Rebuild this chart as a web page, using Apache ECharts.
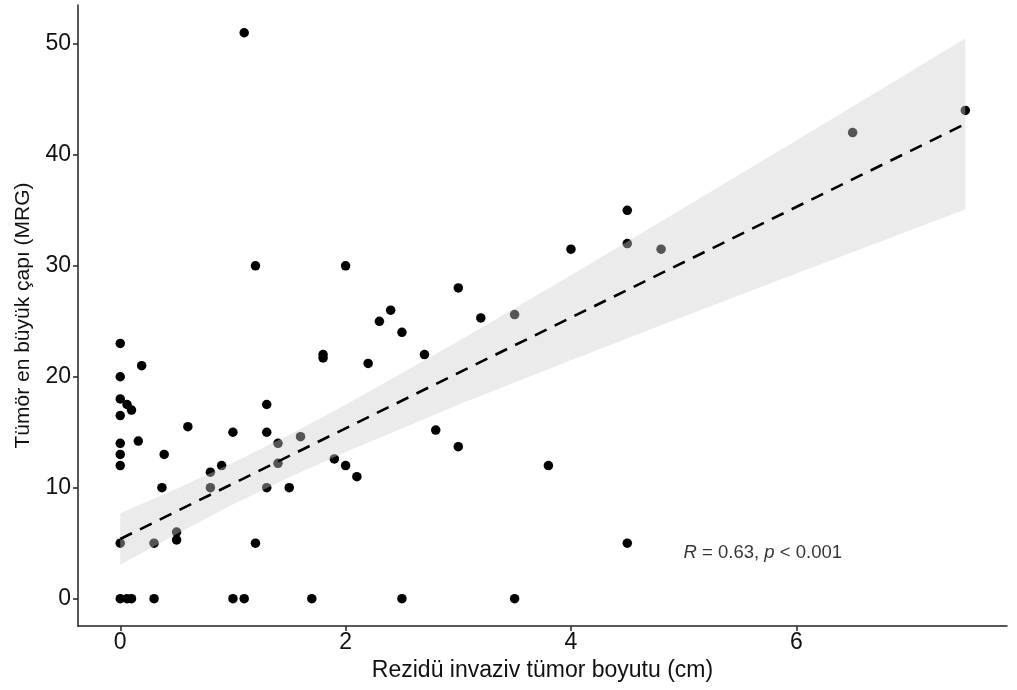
<!DOCTYPE html>
<html>
<head>
<meta charset="utf-8">
<script src="https://cdn.jsdelivr.net/npm/echarts@6/dist/echarts.min.js"></script>
<style>
html,body{margin:0;padding:0;background:#fff;}
#chart{width:1017px;height:690px;}
</style>
</head>
<body>
<div id="chart"></div>
<script>
// Observed points: residual invasive tumour size (cm) vs largest MRI diameter
var xValues = [0, 0, 0, 0, 0, 0, 0, 0, 0,
  0.06, 0.1, 0.19, 0.16, 0.06, 0.1,
  0.3, 0.3, 0.37, 0.39, 0.5, 0.5, 0.6,
  0.8, 0.8, 0.9, 1.0, 1.0, 1.1, 1.1, 1.2, 1.2,
  1.3, 1.3, 1.3, 1.4, 1.4, 1.5, 1.6, 1.7,
  1.8, 1.8, 1.9, 2.0, 2.0, 2.1,
  2.2, 2.3, 2.4, 2.5, 2.5, 2.7, 2.8,
  3.0, 3.0, 3.2, 3.5, 3.5, 3.8, 4.0,
  4.5, 4.5, 4.5, 4.8, 6.5, 7.5];
var yValues = [23, 20, 18, 16.5, 14, 13, 12, 5, 0,
  17.5, 17.0, 21.0, 14.2, 0, 0,
  5, 0, 10, 13, 6, 5.3, 15.5,
  11.4, 10, 12, 15, 0, 0, 51, 30, 5,
  17.5, 15, 10, 14, 12.2, 10, 14.6, 0,
  22, 21.7, 12.6, 30, 12, 11,
  21.2, 25, 26, 24, 0, 22, 15.2,
  28, 13.7, 25.3, 25.6, 0, 12, 31.5,
  35, 32, 5, 31.5, 42, 44];

// Fitted line and its confidence band
var fitX = [0, 7.5];
var fitY = [5.38, 42.78];
var bandX = [0, 0.5, 1, 1.5, 2, 3, 4, 5, 6, 7, 7.5];
var bandLow = [3.05, 5.83, 8.48, 10.94, 13.23, 17.48, 21.49, 25.42, 29.30, 33.15, 35.08];
var bandHigh = [7.71, 9.91, 12.26, 14.78, 17.47, 23.20, 29.15, 35.20, 41.30, 47.41, 50.48];

// Ticks and labels
var xTicks = [0, 2, 4, 6];
var yTicks = [0, 10, 20, 30, 40, 50];
var xTitle = 'Rezidü invaziv tümor boyutu (cm)';
var yTitle = 'Tümör en büyük çapı (MRG)';
var statX = [5.0];
var statY = [4.1];

var points = xValues.map(function (x, i) { return [x, yValues[i]]; });
var fitData = fitX.map(function (x, i) { return [x, fitY[i]]; });
var bandData = bandX.map(function (x, i) { return [x, bandLow[i], bandHigh[i]]; });

var FONT = '"Liberation Sans", Arial, sans-serif';
var chart = echarts.init(document.getElementById('chart'), null, {renderer: 'canvas'});

chart.setOption({
  backgroundColor: '#ffffff',
  animation: false,
  grid: {left: 78, right: 10, top: 5, bottom: 64, containLabel: false},
  xAxis: {
    type: 'value',
    min: -0.375, max: 7.87,
    splitLine: {show: false},
    axisLine: {show: true, onZero: false, lineStyle: {color: '#222', width: 1.5}},
    axisTick: {show: true, length: 5, lineStyle: {color: '#222', width: 1.5}, customValues: xTicks},
    axisLabel: {customValues: xTicks, color: '#111', fontSize: 23, fontFamily: FONT, margin: 5},
    name: xTitle,
    nameLocation: 'middle',
    nameGap: 25,
    nameTextStyle: {color: '#111', fontSize: 23, fontFamily: FONT}
  },
  yAxis: {
    type: 'value',
    min: -2.46, max: 53.5,
    splitLine: {show: false},
    axisLine: {show: true, onZero: false, lineStyle: {color: '#222', width: 1.5}},
    axisTick: {show: true, length: 5, lineStyle: {color: '#222', width: 1.5}, customValues: yTicks},
    axisLabel: {customValues: yTicks, color: '#111', fontSize: 23, fontFamily: FONT, margin: 7},
    name: yTitle,
    nameLocation: 'middle',
    nameGap: 44,
    nameTextStyle: {color: '#111', fontSize: 21, fontFamily: FONT}
  },
  series: [
    {
      type: 'scatter',
      name: 'points',
      data: points,
      symbol: 'circle',
      symbolSize: 9.5,
      itemStyle: {color: '#000', opacity: 1},
      z: 2
    },
    {
      type: 'custom',
      name: 'band',
      data: bandData,
      z: 3,
      clip: true,
      renderItem: function (params, api) {
        if (params.dataIndex !== 0) return null;
        var pts = [];
        for (var i = 0; i < bandX.length; i++) pts.push(api.coord([bandX[i], bandHigh[i]]));
        for (var j = bandX.length - 1; j >= 0; j--) pts.push(api.coord([bandX[j], bandLow[j]]));
        return {
          type: 'polygon',
          shape: {points: pts},
          style: {fill: 'rgba(206,206,206,0.41)', stroke: null}
        };
      }
    },
    {
      type: 'line',
      name: 'fit',
      data: fitData,
      showSymbol: false,
      symbol: 'none',
      lineStyle: {color: '#000', width: 2.6, type: [13, 9]},
      z: 4
    },
    {
      type: 'scatter',
      name: 'stat',
      data: statX.map(function (x, i) { return [x, statY[i]]; }),
      symbolSize: 0,
      z: 5,
      label: {
        show: true,
        position: 'inside',
        align: 'left',
        verticalAlign: 'middle',
        fontFamily: FONT,
        fontSize: 18.5,
        color: '#000',
        formatter: '{i|R} = 0.63, {i|p} < 0.001',
        rich: {i: {fontStyle: 'italic', fontSize: 18.5, fontFamily: FONT, color: '#000'}}
      }
    }
  ]
});
</script>
</body>
</html>
